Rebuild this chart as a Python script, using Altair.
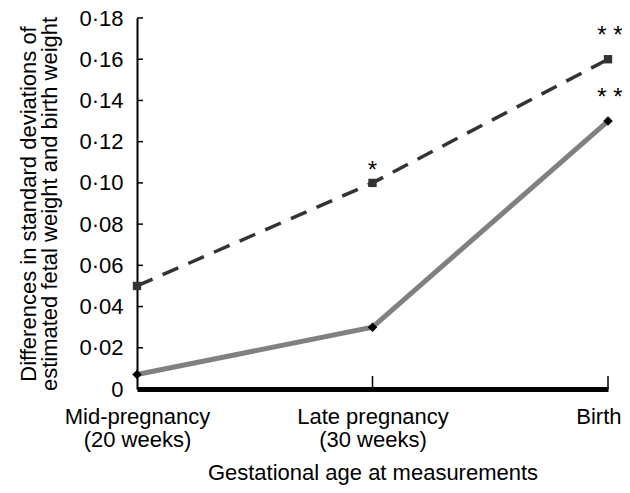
import altair as alt
import pandas as pd

# ---- data ----
stages = ["Mid-pregnancy\n(20 weeks)", "Late pregnancy\n(30 weeks)", "Birth"]
dashed_values = [0.05, 0.10, 0.16]
solid_values = [0.007, 0.03, 0.13]
dashed_sig = ["", "*", "**"]
solid_sig = ["", "", "**"]
y_tick_values = [0, 0.02, 0.04, 0.06, 0.08, 0.10, 0.12, 0.14, 0.16, 0.18]
y_tick_labels = ["0", "0·02", "0·04", "0·06", "0·08", "0·10", "0·12", "0·14", "0·16", "0·18"]
x_title = "Gestational age at measurements"
y_title = ["Differences in standard deviations of", "estimated fetal weight and birth weight"]

FONT = "Liberation Sans"
FS = 22
W, H = 471, 371

rows = []
for i, s in enumerate(stages):
    rows.append({"stage": s, "value": dashed_values[i], "series": "dashed", "sig": dashed_sig[i], "idx": i})
    rows.append({"stage": s, "value": solid_values[i], "series": "solid", "sig": solid_sig[i], "idx": i})
df = pd.DataFrame(rows)
ticks_df = pd.DataFrame({"v": y_tick_values})
xticks_df = pd.DataFrame({"stage": stages[1:]})

label_map = "{" + ",".join(f"'{v:.2f}':'{l}'" for v, l in zip(y_tick_values, y_tick_labels)) + "}"
y_label_expr = f"{label_map}[format(datum.value, '.2f')]"
last_test = f"datum.value == '{stages[-1]}'"

x_enc = alt.X(
    "stage:N",
    sort=stages,
    scale=alt.Scale(type="point", padding=0, domain=stages),
    axis=alt.Axis(
        title=x_title,
        labelExpr="split(datum.label, '\\n')",
        labelAngle=0,
        labelAlign={"condition": {"test": last_test, "value": "right"}, "value": "center"},
        labelOffset={"condition": {"test": last_test, "value": 13}, "value": 0},
        labelBaseline="top",
        labelFont=FONT,
        labelFontSize=FS,
        labelColor="black",
        labelLineHeight=23,
        labelPadding=17,
        labelOverlap=False,
        labelFlush=False,
        labelBound=False,
        ticks=False,
        domainColor="black",
        domainWidth=5,
        titleFont=FONT,
        titleFontSize=FS,
        titleFontWeight="normal",
        titleColor="black",
        titlePadding=12,
        grid=False,
    ),
)
y_enc = alt.Y(
    "value:Q",
    scale=alt.Scale(domain=[0, 0.18], nice=False, zero=True),
    axis=alt.Axis(
        values=y_tick_values,
        labelExpr=y_label_expr,
        labelFont=FONT,
        labelFontSize=FS,
        labelColor="black",
        labelPadding=14,
        ticks=False,
        domainColor="black",
        domainWidth=2,
        title=y_title,
        titleFont=FONT,
        titleFontSize=FS,
        titleFontWeight="normal",
        titleColor="black",
        titleLineHeight=21,
        titlePadding=17,
        grid=False,
    ),
)

base = alt.Chart(df)

solid_line = base.transform_filter("datum.series == 'solid'").mark_line(
    color="#808080", strokeWidth=5
).encode(x=x_enc, y=y_enc, order="idx:Q")
dashed_line = base.transform_filter("datum.series == 'dashed'").mark_line(
    color="#333333", strokeWidth=3.5, strokeDash=[17, 11]
).encode(x=x_enc, y=y_enc, order="idx:Q")
solid_pts = base.transform_filter("datum.series == 'solid'").mark_point(
    shape="diamond", filled=True, color="black", size=90, opacity=1
).encode(x=x_enc, y=y_enc)
dashed_pts = base.transform_filter("datum.series == 'dashed'").mark_point(
    shape="square", filled=True, color="#333333", size=70, opacity=1
).encode(x=x_enc, y=y_enc)

sig_base = base.transform_filter("datum.sig != ''").transform_calculate(
    sig_txt="join(split(datum.sig, ''), ' ')"
)
sig_mid = sig_base.transform_filter("datum.idx == 1").mark_text(
    font=FONT, fontSize=24, color="black", baseline="alphabetic", dy=-5, dx=0
).encode(x=x_enc, y=y_enc, text="sig_txt:N")
sig_end = sig_base.transform_filter("datum.idx == 2").mark_text(
    font=FONT, fontSize=24, color="black", baseline="alphabetic", dy=-16, dx=2
).encode(x=x_enc, y=y_enc, text="sig_txt:N")

y_ticks = alt.Chart(ticks_df).mark_rule(color="black", strokeWidth=1.5).encode(
    y=alt.Y("v:Q", scale=alt.Scale(domain=[0, 0.18], nice=False)),
    x=alt.value(0),
    x2=alt.value(6),
)
x_ticks = alt.Chart(xticks_df).mark_rule(color="black", strokeWidth=1.5).encode(
    x=alt.X("stage:N", sort=stages, scale=alt.Scale(type="point", padding=0, domain=stages)),
    y=alt.value(H),
    y2=alt.value(H - 13),
)

chart = alt.layer(
    y_ticks, x_ticks, dashed_line, solid_line, dashed_pts, solid_pts, sig_mid, sig_end
).properties(
    width=W,
    height=H,
    autosize=alt.AutoSizeParams(type="none"),
    padding={"left": 129, "top": 10, "right": 14, "bottom": 96},
    background="white",
).configure_view(stroke=None)

chart.save("out.html", embed_options={"renderer": "svg", "actions": False})
